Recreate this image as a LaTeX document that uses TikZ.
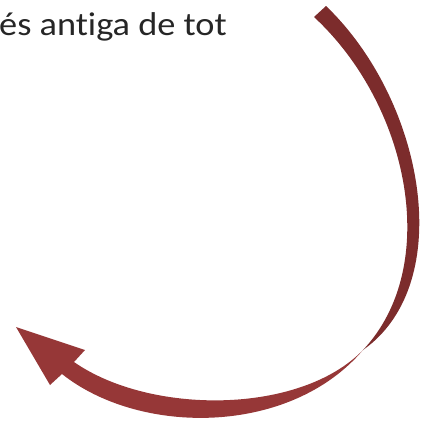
\documentclass[tikz,border=0pt]{standalone}
\usepackage{fontspec}
\setmainfont{Carlito}[Ligatures=NoCommon,FakeStretch=1.1]
\definecolor{arrowdark}{RGB}{124,44,44}
\definecolor{arrowlight}{RGB}{150,55,55}
\definecolor{textgray}{RGB}{38,38,38}
\begin{document}
\begin{tikzpicture}[x=1pt,y=-1pt,
  labeltext/.style={anchor=base west,inner sep=0pt,text=textgray,font=\fontsize{33}{38}\selectfont}]
\useasboundingbox (0,0) rectangle (430,421);
\node[labeltext] (label) at (-1,35) {és antiga de tot};
% upper band of the arrow
\coordinate (tip) at (363,350);
\fill[arrowdark] (326,6) .. controls (424,100) and (458,283) .. (tip)
  .. controls (442,266) and (409,105) .. (314,17) -- cycle;
% lower band with arrowhead
\fill[arrowlight] (tip) .. controls (300,415) and (150,415) .. (74,362)
  -- (85,350) -- (16,327) -- (50,385) -- (62,374)
  .. controls (140,436) and (290,436) .. (tip) -- cycle;
\end{tikzpicture}
\end{document}
